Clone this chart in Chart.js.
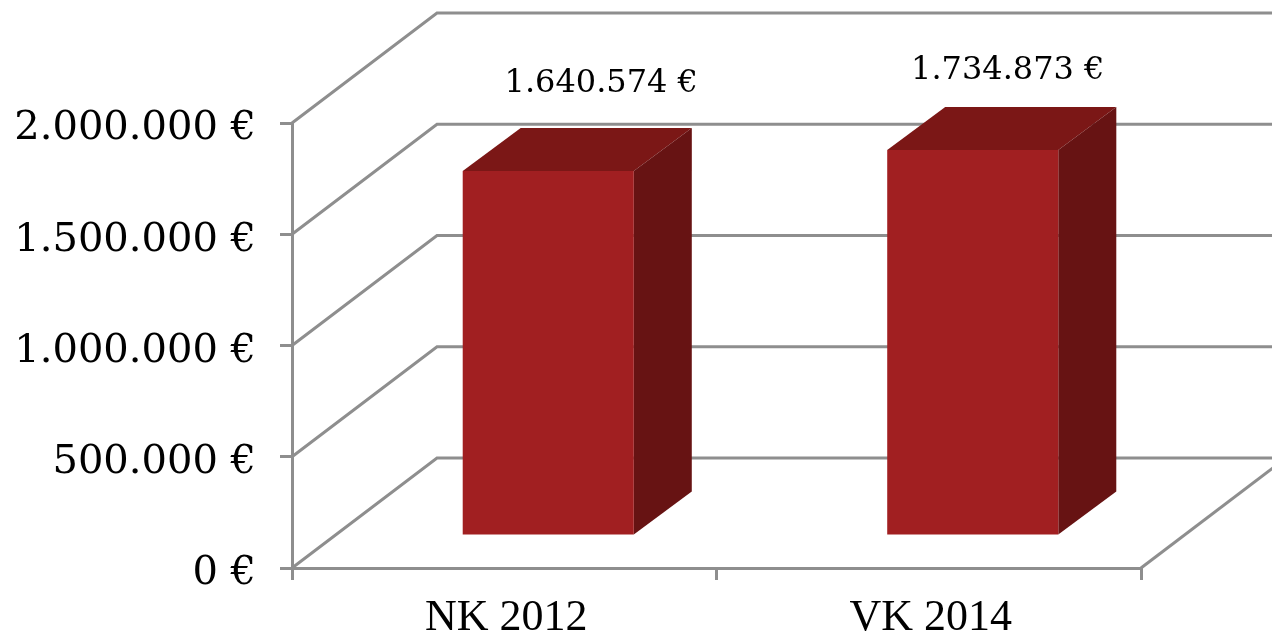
<!DOCTYPE html>
<html lang="de">
<head>
<meta charset="utf-8">
<style>html,body{margin:0;padding:0;background:#fff}canvas{display:block}</style>
<script src="https://cdn.jsdelivr.net/npm/chart.js@4/dist/chart.umd.min.js"></script>
</head>
<body>
<canvas id="c" width="1272" height="639"></canvas>
<script>
const categories = ["NK 2012", "VK 2014"];
const seriesValues = [1640574, 1734873];
const axisMax = 2000000;
const axisStep = 500000;

const euro = v => String(v).replace(/\B(?=(\d{3})+$)/g, ".") + " €";
const GRID = "#8e8e8e";
const NUM_FONT = "'DejaVu Serif'";
const WALL = {dx: 145, dy: -110};
const BAR_OFFSET = {dx: 44, dy: -32};
const BAR_DEPTH = {dx: 58, dy: -43};
const LABEL_SHIFT = [{dx: 97, dy: -119}, {dx: 79, dy: -111}];

const walls = {
  id: "walls",
  beforeDatasetsDraw(chart) {
    const {ctx, scales: {x, y}} = chart;
    const left = x.left, right = x.right, w = chart.width;
    ctx.save();
    ctx.strokeStyle = GRID;
    ctx.lineWidth = 3;
    y.ticks.forEach(t => {
      const py = y.getPixelForValue(t.value);
      ctx.beginPath();
      ctx.moveTo(left, py);
      ctx.lineTo(left + WALL.dx, py + WALL.dy);
      ctx.lineTo(w, py + WALL.dy);
      ctx.stroke();
    });
    const py0 = y.getPixelForValue(0);
    ctx.beginPath();
    ctx.moveTo(right, py0);
    ctx.lineTo(right + WALL.dx, py0 + WALL.dy);
    ctx.stroke();
    ctx.restore();
  }
};

const bars3d = {
  id: "bars3d",
  beforeDatasetDraw(chart, args) {
    const {ctx} = chart;
    const meta = args.meta;
    meta.data.forEach(b => {
      const p = b.getProps(["x", "y", "base", "width"], true);
      const l = p.x - p.width / 2 + BAR_OFFSET.dx, r = p.x + p.width / 2 + BAR_OFFSET.dx;
      const t = p.y + BAR_OFFSET.dy, bt = p.base + BAR_OFFSET.dy;
      ctx.save();
      ctx.fillStyle = "#7b1716";
      ctx.beginPath();
      ctx.moveTo(l, t);
      ctx.lineTo(l + BAR_DEPTH.dx, t + BAR_DEPTH.dy);
      ctx.lineTo(r + BAR_DEPTH.dx, t + BAR_DEPTH.dy);
      ctx.lineTo(r, t);
      ctx.closePath();
      ctx.fill();
      ctx.fillStyle = "#671313";
      ctx.beginPath();
      ctx.moveTo(r, t);
      ctx.lineTo(r + BAR_DEPTH.dx, t + BAR_DEPTH.dy);
      ctx.lineTo(r + BAR_DEPTH.dx, bt + BAR_DEPTH.dy);
      ctx.lineTo(r, bt);
      ctx.closePath();
      ctx.fill();
      ctx.restore();
    });
    ctx.save();
    ctx.translate(BAR_OFFSET.dx, BAR_OFFSET.dy);
  },
  afterDatasetDraw(chart) {
    chart.ctx.restore();
  },
  afterDatasetsDraw(chart) {
    const {ctx} = chart;
    const meta = chart.getDatasetMeta(0);
    ctx.save();
    ctx.fillStyle = "#000";
    ctx.font = "32px " + NUM_FONT;
    ctx.textAlign = "center";
    ctx.textBaseline = "middle";
    meta.data.forEach((b, i) => {
      const p = b.getProps(["x", "y"], true);
      ctx.fillText(euro(seriesValues[i]), p.x + LABEL_SHIFT[i].dx, p.y + LABEL_SHIFT[i].dy);
    });
    ctx.restore();
  }
};

new Chart(document.getElementById("c"), {
  type: "bar",
  data: {
    labels: categories,
    datasets: [{
      data: seriesValues,
      backgroundColor: "#a11f21",
      borderWidth: 0,
      barPercentage: 0.403,
      categoryPercentage: 1,
      clip: false
    }]
  },
  plugins: [walls, bars3d],
  options: {
    responsive: false,
    animation: false,
    layout: {padding: {top: 123, right: 131, left: 0, bottom: 0}},
    plugins: {legend: {display: false}, tooltip: {enabled: false}},
    scales: {
      x: {
        afterFit(s) { s.height = 71; },
        border: {display: true, color: GRID, width: 3},
        grid: {drawOnChartArea: false, color: GRID, lineWidth: 3, tickLength: 12, offset: true},
        ticks: {color: "#000", padding: 12, labelOffset: 2, font: {family: "'Liberation Serif'", size: 44}, maxRotation: 0}
      },
      y: {
        min: 0,
        max: axisMax,
        afterFit(s) { s.width = 292; },
        border: {display: true, color: GRID, width: 3},
        grid: {drawOnChartArea: false, color: GRID, lineWidth: 3, tickLength: 12},
        ticks: {
          stepSize: axisStep,
          color: "#000",
          padding: 24,
          labelOffset: 6,
          font: {family: NUM_FONT, size: 40},
          callback: v => euro(v)
        }
      }
    }
  }
});
</script>
</body>
</html>
